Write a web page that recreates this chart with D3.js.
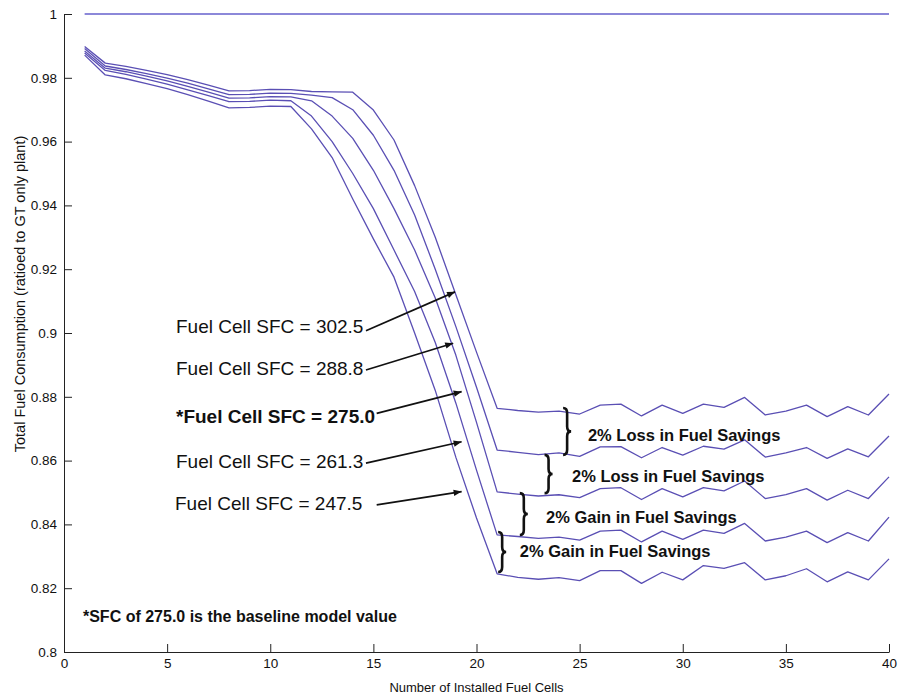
<!DOCTYPE html>
<html>
<head>
<meta charset="utf-8">
<script src="https://cdn.jsdelivr.net/npm/d3@7"></script>
<style>
  body { margin: 0; background: #fff; }
  text { font-family: "Liberation Sans", Arial, Helvetica, sans-serif; fill: #111; }
</style>
</head>
<body>
<script>
let width = 900;
let height = 696;

// number of installed fuel cells
let cells = [1, 2, 3, 4, 5, 6, 7, 8, 9, 10,
             11, 12, 13, 14, 15, 16, 17, 18, 19, 20,
             21, 22, 23, 24, 25, 26, 27, 28, 29, 30,
             31, 32, 33, 34, 35, 36, 37, 38, 39, 40];

// GT only plant (reference)
let gtOnly = [1, 1, 1, 1, 1, 1, 1, 1, 1, 1,
              1, 1, 1, 1, 1, 1, 1, 1, 1, 1,
              1, 1, 1, 1, 1, 1, 1, 1, 1, 1,
              1, 1, 1, 1, 1, 1, 1, 1, 1, 1];

let sfc302 = [0.9898, 0.9846, 0.9836, 0.9823, 0.9810, 0.9794, 0.9777, 0.9759, 0.9760, 0.9764,
              0.9763, 0.9757, 0.9756, 0.9755, 0.9699, 0.9605, 0.9462, 0.9300, 0.9120, 0.8940,
              0.8764, 0.8757, 0.8752, 0.8755, 0.8746, 0.8774, 0.8777, 0.8740, 0.8774, 0.8748,
              0.8777, 0.8767, 0.8798, 0.8743, 0.8755, 0.8774, 0.8738, 0.8769, 0.8743, 0.8809];

let sfc288 = [0.9892, 0.9837, 0.9826, 0.9813, 0.9799, 0.9783, 0.9765, 0.9747, 0.9748, 0.9752,
              0.9751, 0.9746, 0.9738, 0.9700, 0.9620, 0.9510, 0.9370, 0.9200, 0.9020, 0.8830,
              0.8633, 0.8626, 0.8619, 0.8624, 0.8613, 0.8643, 0.8644, 0.8609, 0.8641, 0.8617,
              0.8645, 0.8636, 0.8665, 0.8611, 0.8624, 0.8641, 0.8607, 0.8637, 0.8612, 0.8677];

let sfc275 = [0.9884, 0.9830, 0.9819, 0.9805, 0.9790, 0.9773, 0.9755, 0.9736, 0.9737, 0.9741,
              0.9740, 0.9728, 0.9680, 0.9610, 0.9510, 0.9390, 0.9260, 0.9110, 0.8930, 0.8720,
              0.8502, 0.8495, 0.8489, 0.8493, 0.8484, 0.8512, 0.8515, 0.8478, 0.8512, 0.8486,
              0.8515, 0.8505, 0.8536, 0.8481, 0.8493, 0.8512, 0.8476, 0.8507, 0.8481, 0.8549];

let sfc261 = [0.9878, 0.9823, 0.9811, 0.9796, 0.9780, 0.9762, 0.9744, 0.9725, 0.9726, 0.9730,
              0.9728, 0.9680, 0.9600, 0.9500, 0.9390, 0.9260, 0.9130, 0.8970, 0.8780, 0.8570,
              0.8367, 0.8362, 0.8356, 0.8360, 0.8351, 0.8379, 0.8382, 0.8345, 0.8379, 0.8353,
              0.8382, 0.8372, 0.8403, 0.8348, 0.8360, 0.8379, 0.8343, 0.8374, 0.8348, 0.8423];

let sfc247 = [0.9871, 0.9809, 0.9797, 0.9782, 0.9766, 0.9747, 0.9727, 0.9706, 0.9707, 0.9711,
              0.9710, 0.9640, 0.9550, 0.9420, 0.9295, 0.9175, 0.9000, 0.8820, 0.8610, 0.8420,
              0.8245, 0.8234, 0.8228, 0.8233, 0.8224, 0.8255, 0.8255, 0.8215, 0.8250, 0.8226,
              0.8271, 0.8262, 0.8280, 0.8226, 0.8239, 0.8261, 0.8220, 0.8251, 0.8226, 0.8292];

let xTicks = [0, 5, 10, 15, 20, 25, 30, 35, 40];
let yTicks = [0.8, 0.82, 0.84, 0.86, 0.88, 0.9, 0.92, 0.94, 0.96, 0.98, 1];

let sfcLabels = ["Fuel Cell SFC = 302.5", "Fuel Cell SFC = 288.8", "*Fuel Cell SFC = 275.0",
                 "Fuel Cell SFC = 261.3", "Fuel Cell SFC = 247.5"];
let braceLabels = ["2% Loss in Fuel Savings", "2% Loss in Fuel Savings",
                   "2% Gain in Fuel Savings", "2% Gain in Fuel Savings"];
let note = "*SFC of 275.0 is the baseline model value";

let series = [gtOnly, sfc302, sfc288, sfc275, sfc261, sfc247];

//scales

let xScale = d3.scaleLinear()
    .domain([0, 40])
    .range([64, 889]);

let yScale = d3.scaleLinear()
    .domain([0.8, 1])
    .range([652, 14]);

//svg canvas

let svg = d3.select("body")
    .append("svg")
    .attr("width", width)
    .attr("height", height);

svg.append("defs")
    .append("marker")
    .attr("id", "head")
    .attr("viewBox", "0 -5 10 10")
    .attr("refX", 10)
    .attr("refY", 0)
    .attr("markerUnits", "userSpaceOnUse")
    .attr("markerWidth", 10)
    .attr("markerHeight", 8)
    .attr("orient", "auto")
    .append("path")
    .attr("d", "M0,-4L10,0L0,4Z")
    .attr("fill", "#111");

//axes (inward ticks, no box)

let xAxis = d3.axisBottom(xScale)
    .tickValues(xTicks)
    .tickSizeInner(-8)
    .tickSizeOuter(0)
    .tickPadding(6)
    .tickFormat(d3.format("d"));

let yAxis = d3.axisLeft(yScale)
    .tickValues(yTicks)
    .tickSizeInner(-8)
    .tickSizeOuter(0)
    .tickPadding(7)
    .tickFormat(d3.format("~g"));

svg.append("g")
    .attr("transform", "translate(0," + yScale(0.8) + ")")
    .call(xAxis);

svg.append("g")
    .attr("transform", "translate(" + xScale(0) + ",0)")
    .call(yAxis);

svg.selectAll(".tick text")
    .attr("font-size", "13.5px")
    .attr("font-family", "\"Liberation Sans\", Arial, sans-serif")
    .attr("fill", "#111");
svg.selectAll(".domain, .tick line").attr("stroke", "#222").attr("stroke-width", 1);

svg.append("text")
    .attr("x", (xScale(0) + xScale(40)) / 2)
    .attr("y", 692)
    .attr("text-anchor", "middle")
    .attr("font-size", "13px")
    .text("Number of Installed Fuel Cells");

svg.append("text")
    .attr("transform", "translate(25,294) rotate(-90)")
    .attr("text-anchor", "middle")
    .attr("font-size", "14.5px")
    .text("Total Fuel Consumption (ratioed to GT only plant)");

//lines

let line = d3.line()
    .x(function(d, i) { return xScale(cells[i]); })
    .y(function(d) { return yScale(d); });

svg.selectAll("path.series")
    .data(series)
    .enter()
    .append("path")
    .attr("class", "series")
    .attr("d", line)
    .attr("fill", "none")
    .attr("stroke", function(d, i) { return i === 0 ? "#6660cc" : "#5a4fb4"; })
    .attr("stroke-width", 1.3)
    .attr("stroke-linejoin", "round");

//SFC labels with arrows

let labelPos = [[5.43, 0.9000], [5.43, 0.8868], [5.43, 0.8718], [5.43, 0.8577], [5.38, 0.8445]];
let arrows = [[14.64, 0.9007, 18.96, 0.9129],
              [14.64, 0.8884, 18.87, 0.8968],
              [15.16, 0.8748, 19.28, 0.8816],
              [14.64, 0.8592, 19.28, 0.8659],
              [15.16, 0.8461, 19.28, 0.8503]];

svg.selectAll("text.sfc")
    .data(sfcLabels)
    .enter()
    .append("text")
    .attr("class", "sfc")
    .attr("x", function(d, i) { return xScale(labelPos[i][0]); })
    .attr("y", function(d, i) { return yScale(labelPos[i][1]); })
    .attr("font-size", "19px")
    .attr("font-weight", function(d, i) { return i === 2 ? "bold" : "normal"; })
    .text(function(d) { return d; });

svg.selectAll("line.arrow")
    .data(arrows)
    .enter()
    .append("line")
    .attr("class", "arrow")
    .attr("x1", function(d) { return xScale(d[0]); })
    .attr("y1", function(d) { return yScale(d[1]); })
    .attr("x2", function(d) { return xScale(d[2]); })
    .attr("y2", function(d) { return yScale(d[3]); })
    .attr("stroke", "#111")
    .attr("stroke-width", 1.7)
    .attr("marker-end", "url(#head)");

//braces

let braces = [[24.2, 0.8765, 0.8618, 25.4, 0.8661],
              [23.3, 0.8618, 0.8498, 24.63, 0.8533],
              [22.1, 0.8498, 0.8367, 23.37, 0.8404],
              [21.05, 0.8376, 0.8251, 22.1, 0.8298]];

function bracePath(d) {
    let x0 = xScale(d[0]), y1 = yScale(d[1]), y2 = yScale(d[2]);
    let w = 8, r = 5, xm = x0 + w / 2, ym = (y1 + y2) / 2;
    return "M" + x0 + "," + y1 +
        "Q" + xm + "," + y1 + " " + xm + "," + (y1 + r) +
        "L" + xm + "," + (ym - r) +
        "Q" + xm + "," + ym + " " + (x0 + w) + "," + ym +
        "Q" + xm + "," + ym + " " + xm + "," + (ym + r) +
        "L" + xm + "," + (y2 - r) +
        "Q" + xm + "," + y2 + " " + x0 + "," + y2;
}

svg.selectAll("path.brace")
    .data(braces)
    .enter()
    .append("path")
    .attr("class", "brace")
    .attr("d", bracePath)
    .attr("fill", "none")
    .attr("stroke", "#111")
    .attr("stroke-width", 2.6);

svg.selectAll("text.brace")
    .data(braceLabels)
    .enter()
    .append("text")
    .attr("class", "brace")
    .attr("x", function(d, i) { return xScale(braces[i][3]); })
    .attr("y", function(d, i) { return yScale(braces[i][4]); })
    .attr("font-size", "16.5px")
    .attr("font-weight", "bold")
    .text(function(d) { return d; });

//footnote

svg.append("text")
    .attr("x", xScale(0.92))
    .attr("y", yScale(0.8094))
    .attr("font-size", "16px")
    .attr("font-weight", "bold")
    .text(note);
</script>
</body>
</html>
